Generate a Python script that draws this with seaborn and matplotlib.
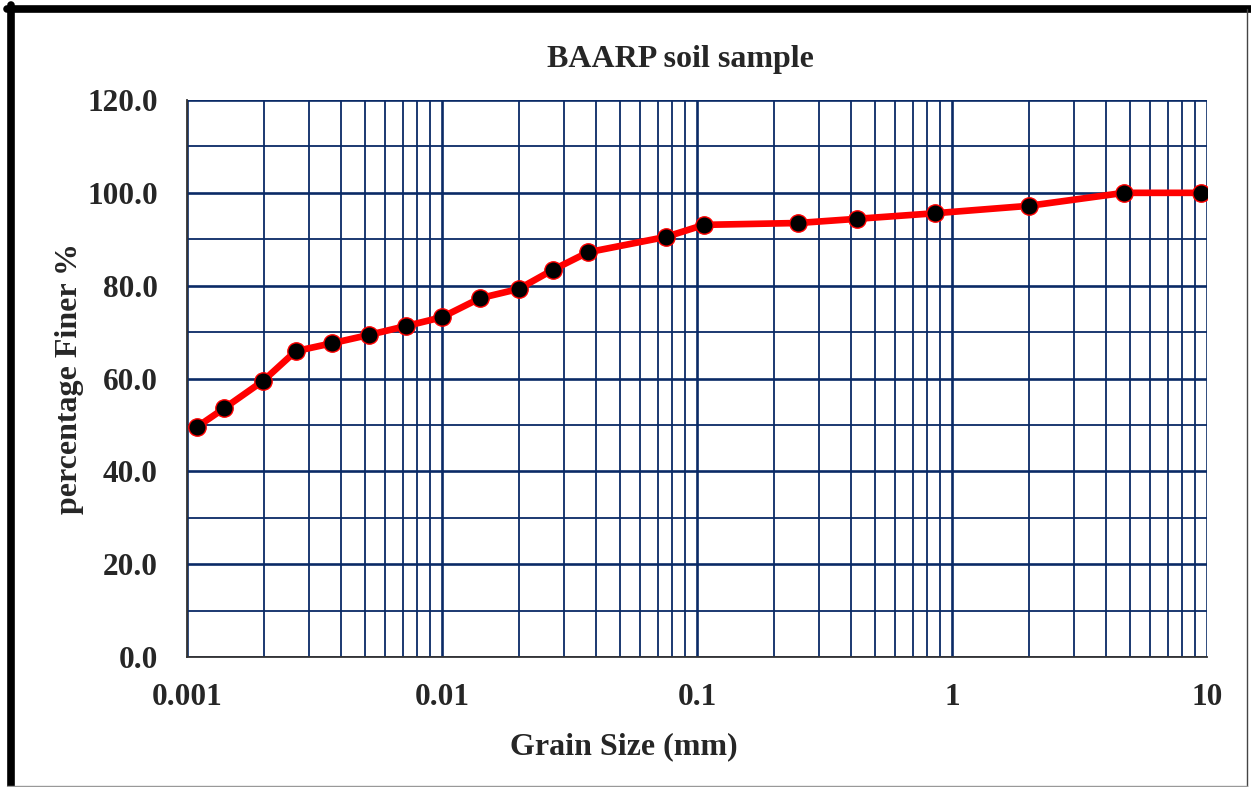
import matplotlib
matplotlib.use("Agg")
import matplotlib.pyplot as plt
from matplotlib.ticker import LogLocator, MultipleLocator, FixedLocator, FixedFormatter, NullFormatter
from matplotlib.lines import Line2D
import seaborn as sns
import pandas as pd

grain_size_mm = [0.00109, 0.00140, 0.00199, 0.00267, 0.00371, 0.00518, 0.00723, 0.0100,
                 0.0141, 0.0200, 0.0272, 0.0374, 0.0755, 0.1065, 0.249, 0.424, 0.857,
                 2.00, 4.73, 9.47]
percent_finer = [49.5, 53.6, 59.5, 65.9, 67.6, 69.4, 71.3, 73.2,
                 77.3, 79.3, 83.4, 87.2, 90.5, 93.1, 93.5, 94.4, 95.6,
                 97.2, 100.0, 100.0]
x_ticks = [0.001, 0.01, 0.1, 1, 10]
x_tick_labels = ["0.001", "0.01", "0.1", "1", "10"]
y_ticks = [0, 20, 40, 60, 80, 100, 120]
y_tick_labels = ["0.0", "20.0", "40.0", "60.0", "80.0", "100.0", "120.0"]

sns.set_style("white")
plt.rcParams['font.family'] = ['Liberation Serif', 'DejaVu Serif']
plt.rcParams['font.weight'] = 'bold'

df = pd.DataFrame({"grain": grain_size_mm, "finer": percent_finer})

fig = plt.figure(figsize=(12.51, 7.87), dpi=100)
ax = fig.add_axes([187/1251, 1-657/787, (1207-187)/1251, (657-100)/787])

grid_color = "#0A2A66"
ax.set_xscale("log")
ax.set_xlim(0.001, 10)
ax.set_ylim(0, 120)

ax.xaxis.set_major_locator(FixedLocator(x_ticks))
ax.xaxis.set_major_formatter(FixedFormatter(x_tick_labels))
ax.xaxis.set_minor_locator(LogLocator(base=10, subs=range(2, 10), numticks=20))
ax.xaxis.set_minor_formatter(NullFormatter())
ax.yaxis.set_major_locator(FixedLocator(y_ticks))
ax.yaxis.set_major_formatter(FixedFormatter(y_tick_labels))
ax.yaxis.set_minor_locator(MultipleLocator(10))

ax.grid(True, which="major", axis="both", color=grid_color, lw=1.9, zorder=0)
ax.grid(True, which="minor", axis="both", color=grid_color, lw=1.3, zorder=0)
ax.set_axisbelow(True)

ax.tick_params(which="both", length=0)
ax.tick_params(axis="y", pad=21, labelsize=22.5)
ax.tick_params(axis="x", pad=19, labelsize=22.5)
for lab in ax.get_xticklabels() + ax.get_yticklabels():
    lab.set_fontweight("bold")

for s in ["top", "right"]:
    ax.spines[s].set_visible(False)
for s in ["left", "bottom"]:
    ax.spines[s].set_color("#333333")
    ax.spines[s].set_linewidth(1.3)

sns.lineplot(data=df, x="grain", y="finer", ax=ax, color="red", lw=4.8,
             marker="o", markersize=12.5, markerfacecolor="black",
             markeredgecolor="red", markeredgewidth=1.0, zorder=5)

ax.set_title("BAARP soil sample", fontsize=23, fontweight="bold", pad=24,
             x=(680-187)/1020)
ax.set_xlabel("Grain Size (mm)", fontsize=23, fontweight="bold", labelpad=14)
ax.xaxis.label.set_x((624-187)/1020)
ax.set_ylabel("percentage Finer %", fontsize=23, fontweight="bold", labelpad=2)

# figure frame
fig.add_artist(Line2D([10.5/1251, 10.5/1251], [0, 1-5/787], color="black", lw=5.5, transform=fig.transFigure))
fig.add_artist(Line2D([7/1251, 1], [1-8.5/787, 1-8.5/787], color="black", lw=5.5, transform=fig.transFigure))
fig.add_artist(Line2D([1247/1251, 1247/1251], [0, 1-9/787], color="#444444", lw=1.0, transform=fig.transFigure))
fig.add_artist(Line2D([7/1251, 1247/1251], [1.5/787, 1.5/787], color="#999999", lw=1.0, transform=fig.transFigure))

fig.savefig("out.png", dpi=100)
